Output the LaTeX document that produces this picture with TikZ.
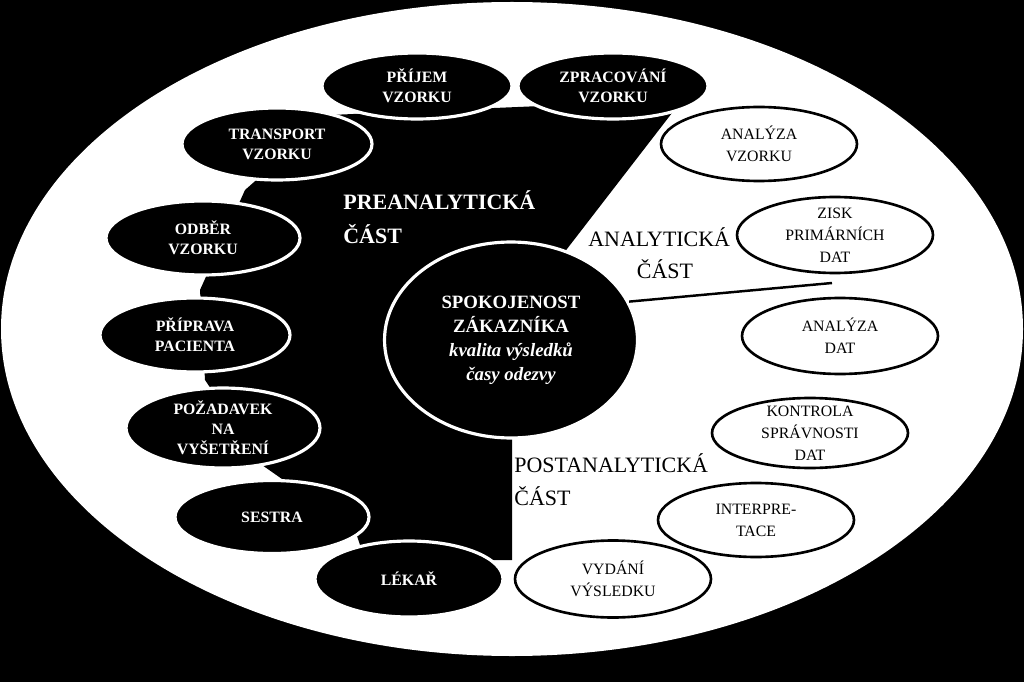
\documentclass[tikz,border=0pt]{standalone}
\usepackage{fontspec}
\setmainfont{Liberation Serif}
\usetikzlibrary{shapes.geometric}
\begin{document}
\begin{tikzpicture}[x=0.02cm,y=-0.02cm,
 bell/.style={ellipse, draw=white, line width=1.8pt, fill=black, inner sep=0pt},
 well/.style={ellipse, draw=black, line width=1.5pt, fill=white, inner sep=0pt},
 btxt/.style={text=white, font=\fontsize{9}{11.5}\selectfont\bfseries, align=center, inner sep=0pt},
 wtxt/.style={text=black, font=\fontsize{9}{12.5}\selectfont, align=center, inner sep=0pt},
 ctxt/.style={text=white, font=\fontsize{10.7}{13.6}\selectfont\bfseries, align=center, inner sep=0pt},
 part/.style={font=\fontsize{12.5}{15}\selectfont, inner sep=0pt},
 partb/.style={part, text=white, font=\fontsize{12.5}{15}\selectfont\bfseries}]
\useasboundingbox (0,0) rectangle (1024,682);
\fill[black] (0,0) rectangle (1024,682);
\fill[white] (512,329) ellipse [x radius=511, y radius=327];
% preanalytical black region
\fill[black] (330,115) -- (682,100) -- (560,258) -- (512,300) -- (512,560) -- (365,560)
  -- (355,530) -- (262,465) -- (205,380) -- (200,290) -- (245,190) -- cycle;
% preanalytical steps
\node[bell, minimum width=3.8cm, minimum height=1.32cm, label={[btxt]center:{PŘÍJEM\\VZORKU}}] (prijem) at (417,86) {};
\node[bell, minimum width=3.8cm, minimum height=1.32cm, label={[btxt]center:{ZPRACOVÁNÍ\\VZORKU}}] (zprac) at (613,86) {};
\node[bell, minimum width=3.8cm, minimum height=1.44cm, label={[btxt]center:{TRANSPORT\\VZORKU}}] (transport) at (277,144) {};
\node[bell, minimum width=3.88cm, minimum height=1.48cm, label={[btxt]center:{ODBĚR\\VZORKU}}] (odber) at (203,238) {};
\node[bell, minimum width=3.8cm, minimum height=1.48cm, label={[btxt]center:{PŘÍPRAVA\\PACIENTA}}] (priprava) at (195,335) {};
\node[bell, minimum width=3.88cm, minimum height=1.6cm, label={[btxt]center:{POŽADAVEK\\NA\\VYŠETŘENÍ}}] (pozadavek) at (223,428) {};
\node[bell, minimum width=3.88cm, minimum height=1.46cm, label={[btxt]center:{SESTRA}}] (sestra) at (272,517) {};
\node[bell, minimum width=3.76cm, minimum height=1.52cm, label={[btxt]center:{LÉKAŘ}}] (lekar) at (409,579) {};
% centre
\node[ellipse, draw=white, line width=1.8pt, fill=black, inner sep=0pt, minimum width=5.06cm, minimum height=3.92cm,
  label={[ctxt]center:{SPOKOJENOST\\ZÁKAZNÍKA\\\textit{kvalita výsledků}\\\textit{časy odezvy}}}] (spok) at (511,340) {};
\coordinate (lend) at (832,283);
\draw[line width=1.4pt] (spok.18) -- (lend);
% part labels
\node[partb, anchor=base west] (pre1) at (343,210) {PREANALYTICKÁ};
\node[partb, anchor=base west] (pre2) at (343,243) {ČÁST};
\node[part, anchor=base west] (an1) at (588,247) {ANALYTICKÁ};
\node[part, anchor=base] (an2) at (665,278) {ČÁST};
\node[part, anchor=base west] (post1) at (514,472) {POSTANALYTICKÁ};
\node[part, anchor=base west] (post2) at (514,505) {ČÁST};
% analytical and postanalytical steps
\node[well, minimum width=3.92cm, minimum height=1.48cm, label={[wtxt]center:{ANALÝZA\\VZORKU}}] (anvz) at (759,144) {};
\node[well, minimum width=3.92cm, minimum height=1.52cm, label={[wtxt]center:{ZISK\\PRIMÁRNÍCH\\DAT}}] (zisk) at (835,235) {};
\node[well, minimum width=3.92cm, minimum height=1.52cm, label={[wtxt]center:{ANALÝZA\\DAT}}] (andat) at (840,336) {};
\node[well, minimum width=3.92cm, minimum height=1.4cm, label={[wtxt]center:{KONTROLA\\SPRÁVNOSTI\\DAT}}] (kontrola) at (810,433) {};
\node[well, minimum width=3.92cm, minimum height=1.48cm, label={[wtxt]center:{INTERPRE-\\TACE}}] (interp) at (756,520) {};
\node[well, minimum width=3.92cm, minimum height=1.54cm, label={[wtxt]center:{VYDÁNÍ\\VÝSLEDKU}}] (vydani) at (613,579) {};
\end{tikzpicture}
\end{document}
